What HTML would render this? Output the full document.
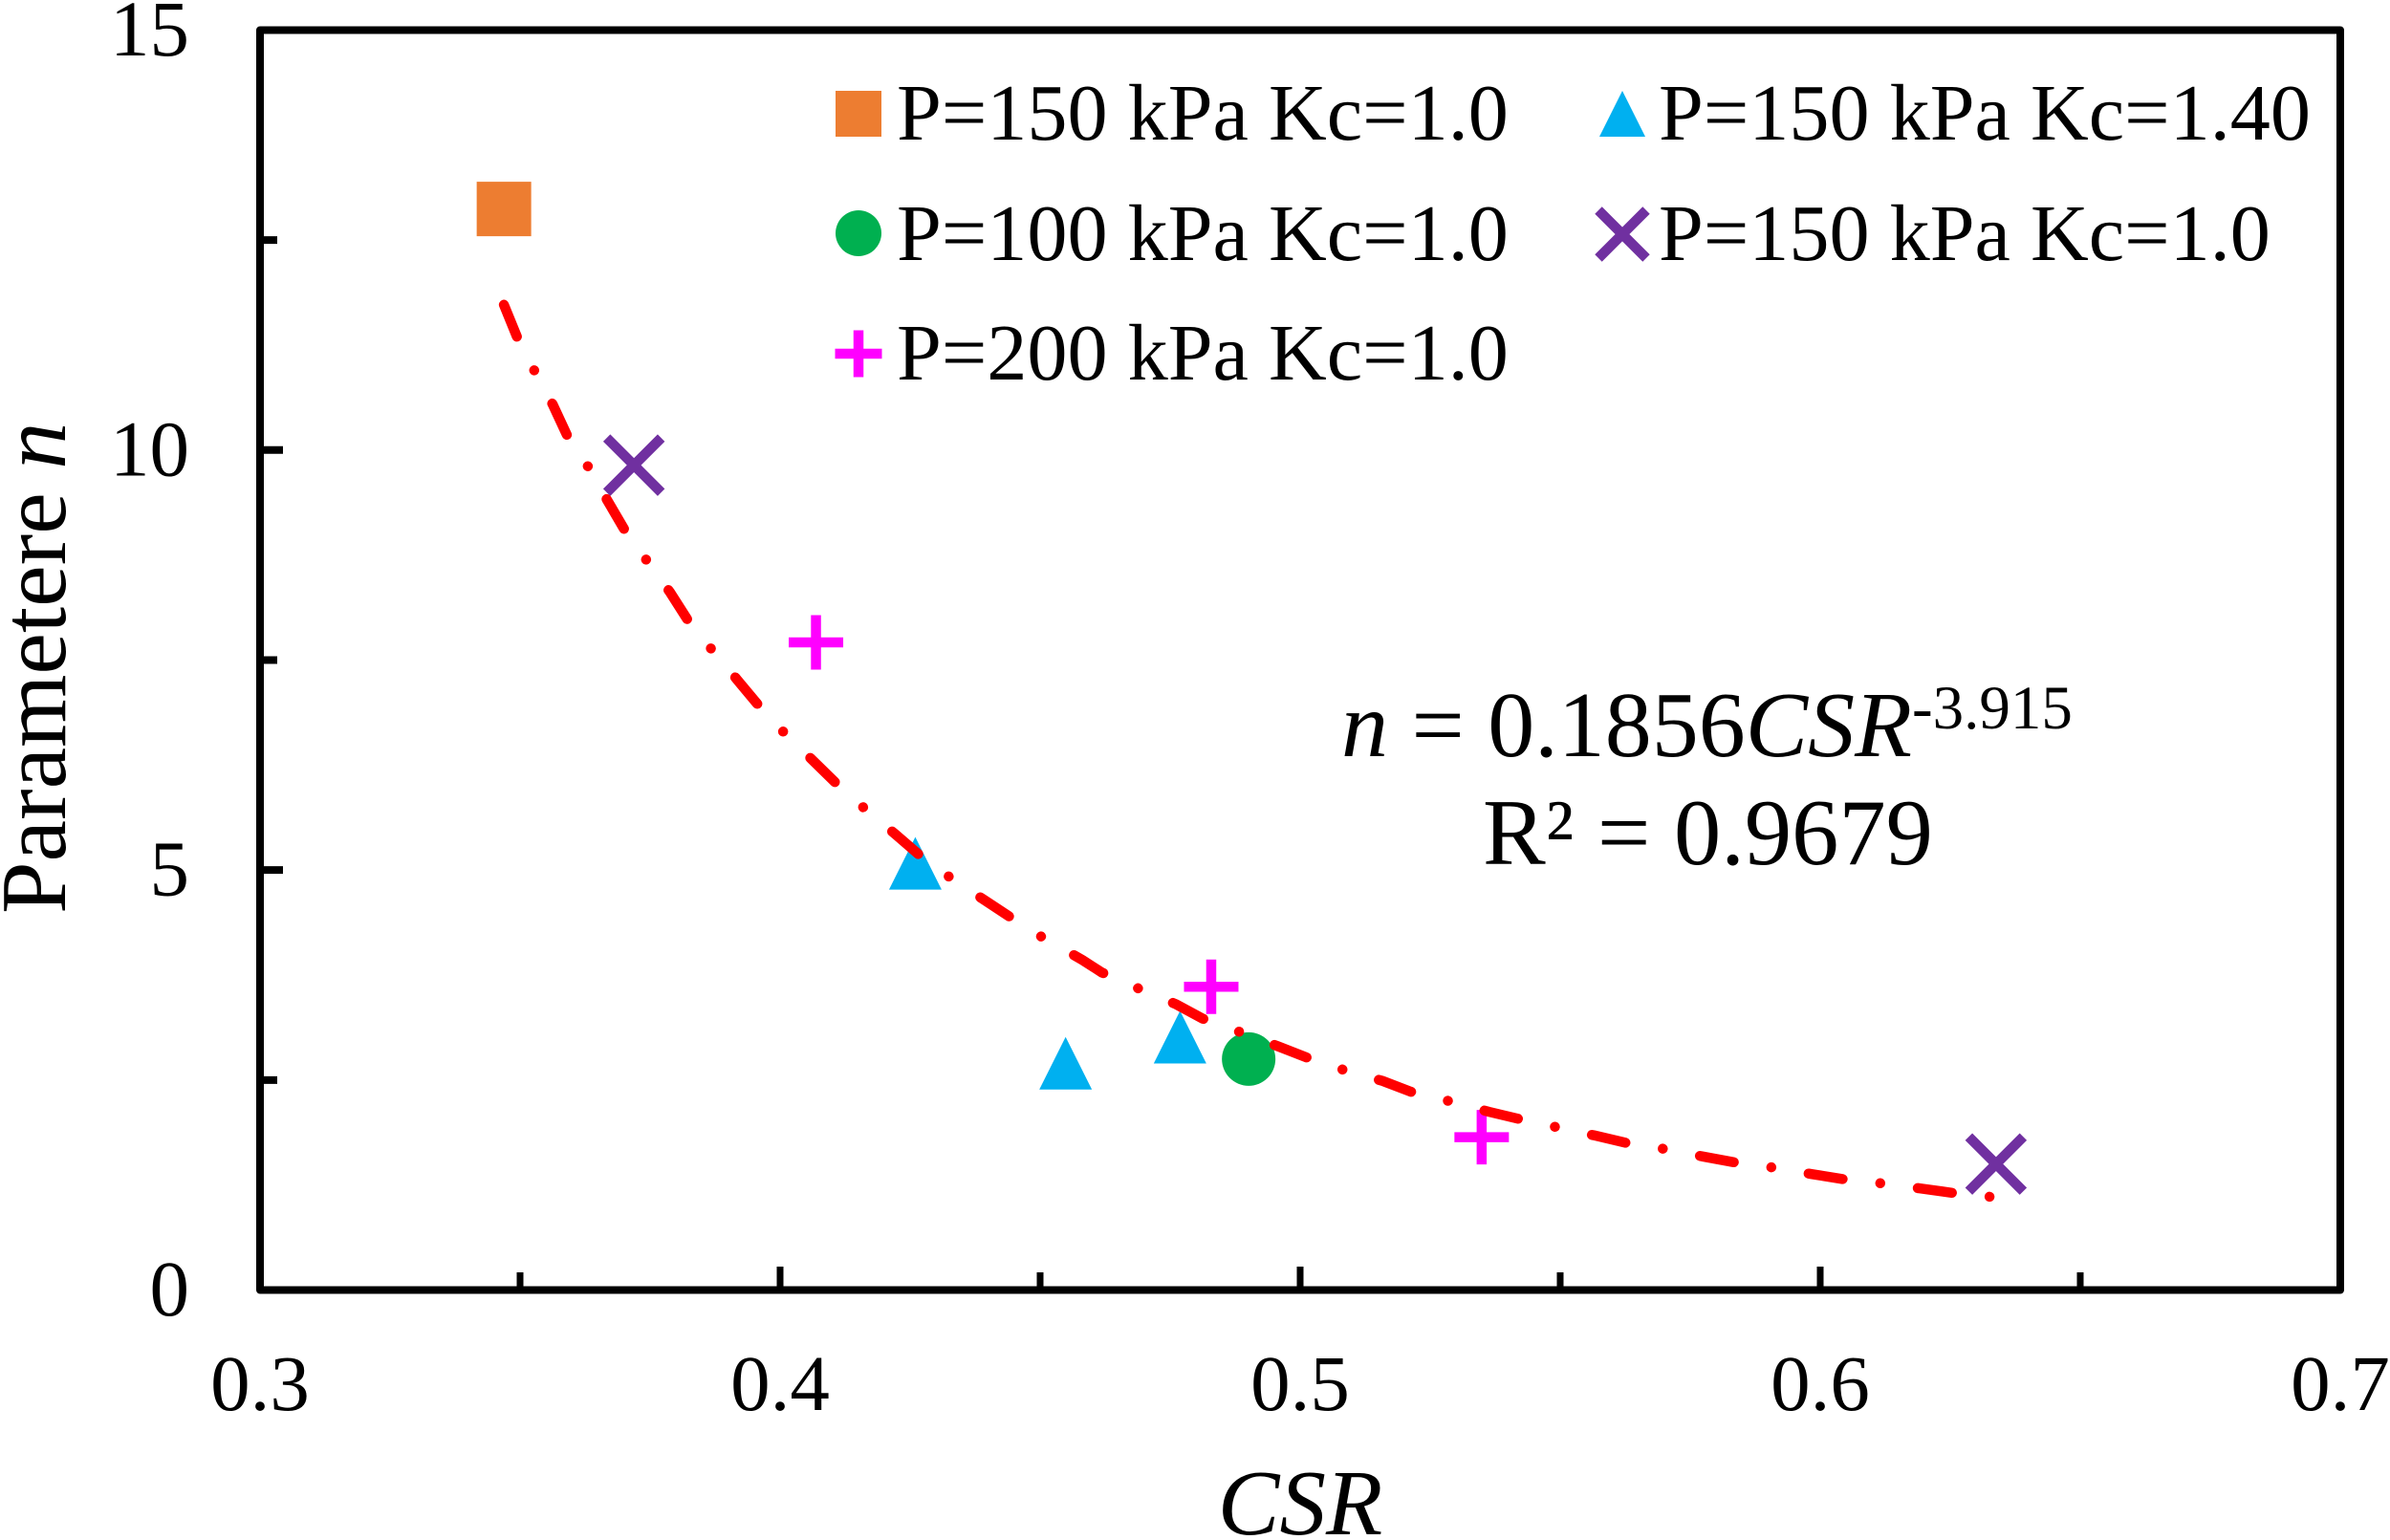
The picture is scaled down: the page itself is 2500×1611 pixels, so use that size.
<!DOCTYPE html>
<html>
<head>
<meta charset="utf-8">
<title>Parameter n vs CSR</title>
<style>
html,body{margin:0;padding:0;background:#fff;}
svg{display:block;}
text{font-family:"Liberation Serif",serif;fill:#000;}
</style>
</head>
<body>
<svg id="chart" xmlns="http://www.w3.org/2000/svg" width="2500" height="1611" viewBox="0 0 2500 1611">
<rect x="0" y="0" width="2500" height="1611" fill="#fff"/>
<g id="ticks"></g>
<g id="tick-labels"></g>
<rect x="272" y="31.5" width="2176" height="1318" fill="none" stroke="#000" stroke-width="8" stroke-linejoin="round"/>
<g id="marks"></g>
<path id="trend" fill="none" stroke="#f00" stroke-width="10.5" stroke-linecap="round" stroke-linejoin="round" stroke-dasharray="36 39.6 0.01 39.6"/>
<text transform="translate(68 956) rotate(-90)" font-size="98">Parametere <tspan font-style="italic">n</tspan></text>
<text x="1360" y="1605" font-size="97" font-style="italic" text-anchor="middle">CSR</text>
<text x="1403" y="791" font-size="98"><tspan font-style="italic">n</tspan> = 0.1856<tspan font-style="italic">CSR</tspan><tspan font-size="65" dy="-29">-3.915</tspan></text>
<text x="1551" y="904" font-size="98.5">R² = 0.9679</text>
<g>
<g id="legend-marks"></g>
<text x="938" y="146" font-size="84.2">P=150 kPa Kc=1.0</text>
<text x="938" y="272" font-size="84.2">P=100 kPa Kc=1.0</text>
<text x="938" y="397" font-size="84.2">P=200 kPa Kc=1.0</text>
<text x="1735" y="146" font-size="84.2">P=150 kPa Kc=1.40</text>
<text x="1735" y="272" font-size="84.2">P=150 kPa Kc=1.0</text>
</g>
</svg>
<script>
const xMajorTicks = [0.3, 0.4, 0.5, 0.6, 0.7];
const xMinorTicks = [0.35, 0.45, 0.55, 0.65];
const yMajorTicks = [0, 5, 10, 15];
const yMinorTicks = [2.5, 7.5, 12.5];
const xTickLabels = ["0.3", "0.4", "0.5", "0.6", "0.7"];
const yTickLabels = ["0", "5", "10", "15"];

const squareCsr = [0.3469];
const squareN = [12.87];
const triangleCsr = [0.426, 0.4549, 0.4769];
const triangleN = [5.08, 2.70, 3.01];
const circleCsr = [0.4901];
const circleN = [2.75];
const crossCsr = [0.3719, 0.6338];
const crossN = [9.82, 1.50];
const plusCsr = [0.4069, 0.4829, 0.5349];
const plusN = [7.71, 3.61, 1.82];

const trendCsr = [0.3469, 0.3494, 0.3528, 0.3563, 0.3590, 0.3631, 0.3667, 0.3700, 0.3743, 0.3788, 0.3822, 0.3868, 0.3917, 0.3956, 0.4007, 0.4062, 0.4105, 0.4161, 0.4221, 0.4266, 0.4325, 0.4391, 0.4440, 0.4504, 0.4581, 0.4619, 0.4689, 0.4762, 0.4813, 0.4885, 0.4958, 0.5012, 0.5084, 0.5158, 0.5213, 0.5286, 0.5364, 0.5418, 0.5492, 0.5566, 0.5628, 0.5700, 0.5774, 0.5835, 0.5907, 0.5983, 0.6044, 0.6118, 0.6192, 0.6256, 0.6327];
const trendN = [11.73, 11.35, 10.94, 10.54, 10.18, 9.80, 9.41, 9.06, 8.69, 8.31, 7.98, 7.63, 7.27, 6.98, 6.64, 6.31, 6.05, 5.74, 5.43, 5.19, 4.92, 4.65, 4.45, 4.20, 3.93, 3.78, 3.59, 3.40, 3.23, 3.07, 2.90, 2.77, 2.62, 2.49, 2.36, 2.25, 2.12, 2.04, 1.94, 1.84, 1.75, 1.68, 1.59, 1.52, 1.46, 1.38, 1.32, 1.27, 1.21, 1.155, 1.11];

const NS = "http://www.w3.org/2000/svg";
function xPos(v) { return 272 + (v - 0.3) * 5440; }
function yPos(v) { return 1349.5 - v * 87.87; }
function make(tag, attrs, parent) {
  const el = document.createElementNS(NS, tag);
  for (const k in attrs) el.setAttribute(k, attrs[k]);
  parent.appendChild(el);
  return el;
}
const ticksG = document.getElementById("ticks");
const labelsG = document.getElementById("tick-labels");
const marksG = document.getElementById("marks");
const legendG = document.getElementById("legend-marks");

function xTick(v, top, name) {
  const el = make("line", {x1: xPos(v), x2: xPos(v), y1: top, y2: 1349.5, stroke: "#000", "stroke-width": 7}, ticksG);
  
  
}
function yTick(v, right, name) {
  const el = make("line", {x1: 272, x2: right, y1: yPos(v), y2: yPos(v), stroke: "#000", "stroke-width": 8}, ticksG);
  
  
}
xMajorTicks.forEach(function (v) { xTick(v, 1325, "x-major-tick"); });
xMinorTicks.forEach(function (v) { xTick(v, 1331, "x-minor-tick"); });
yMajorTicks.forEach(function (v) { yTick(v, 296, "y-major-tick"); });
yMinorTicks.forEach(function (v) { yTick(v, 290, "y-minor-tick"); });

xMajorTicks.forEach(function (v, i) {
  const t = make("text", {x: xPos(v), y: 1475, "font-size": 83, "text-anchor": "middle"}, labelsG);
  t.textContent = xTickLabels[i];
  
  
});
yMajorTicks.forEach(function (v, i) {
  const t = make("text", {x: 198, y: yPos(v) + 26.5, "font-size": 83, "text-anchor": "end"}, labelsG);
  t.textContent = yTickLabels[i];
  
  
});

function drawSquare(cx, cy, s, parent, name) {
  const el = make("rect", {x: cx - s / 2, y: cy - s / 2, width: s, height: s, fill: "#ED7D31"}, parent);
  
  
}
function drawTriangle(cx, cy, s, parent, name) {
  const h = s / 2;
  const el = make("polygon", {points: cx + "," + (cy - h) + " " + (cx + h) + "," + (cy + h) + " " + (cx - h) + "," + (cy + h), fill: "#00B0F0"}, parent);
  
  
}
function drawCircle(cx, cy, s, parent, name) {
  const el = make("circle", {cx: cx, cy: cy, r: s / 2, fill: "#00B050"}, parent);
  
  
}
function drawCross(cx, cy, s, parent, name) {
  const h = s / 2 - 3;
  const el = make("path", {d: "M" + (cx - h) + " " + (cy - h) + "L" + (cx + h) + " " + (cy + h) + "M" + (cx - h) + " " + (cy + h) + "L" + (cx + h) + " " + (cy - h), fill: "none", stroke: "#7030A0", "stroke-width": 10.5}, parent);
  
  
}
function drawPlus(cx, cy, s, parent, name) {
  const h = s / 2;
  const el = make("path", {d: "M" + (cx - h) + " " + cy + "L" + (cx + h) + " " + cy + "M" + cx + " " + (cy - h) + "L" + cx + " " + (cy + h), fill: "none", stroke: "#FF00FF", "stroke-width": 10.5}, parent);
  
  
}

squareCsr.forEach(function (v, i) { drawSquare(xPos(v), yPos(squareN[i]), 57, marksG, "point-square"); });
triangleCsr.forEach(function (v, i) { drawTriangle(xPos(v), yPos(triangleN[i]), 55, marksG, "point-triangle"); });
circleCsr.forEach(function (v, i) { drawCircle(xPos(v), yPos(circleN[i]), 56, marksG, "point-circle"); });
crossCsr.forEach(function (v, i) { drawCross(xPos(v), yPos(crossN[i]), 63, marksG, "point-cross"); });
plusCsr.forEach(function (v, i) { drawPlus(xPos(v), yPos(plusN[i]), 57, marksG, "point-plus"); });

document.getElementById("trend").setAttribute("d", trendCsr.map(function (v, i) {
  return (i ? "L" : "M") + xPos(v).toFixed(1) + " " + yPos(trendN[i]).toFixed(1);
}).join(""));

drawSquare(898, 119, 48, legendG, "legend-marker-square");
drawCircle(898, 244, 48, legendG, "legend-marker-circle");
drawPlus(898, 370, 49, legendG, "legend-marker-plus");
drawTriangle(1697, 119, 48, legendG, "legend-marker-triangle");
drawCross(1697, 245, 56, legendG, "legend-marker-cross");
</script>
</body>
</html>
